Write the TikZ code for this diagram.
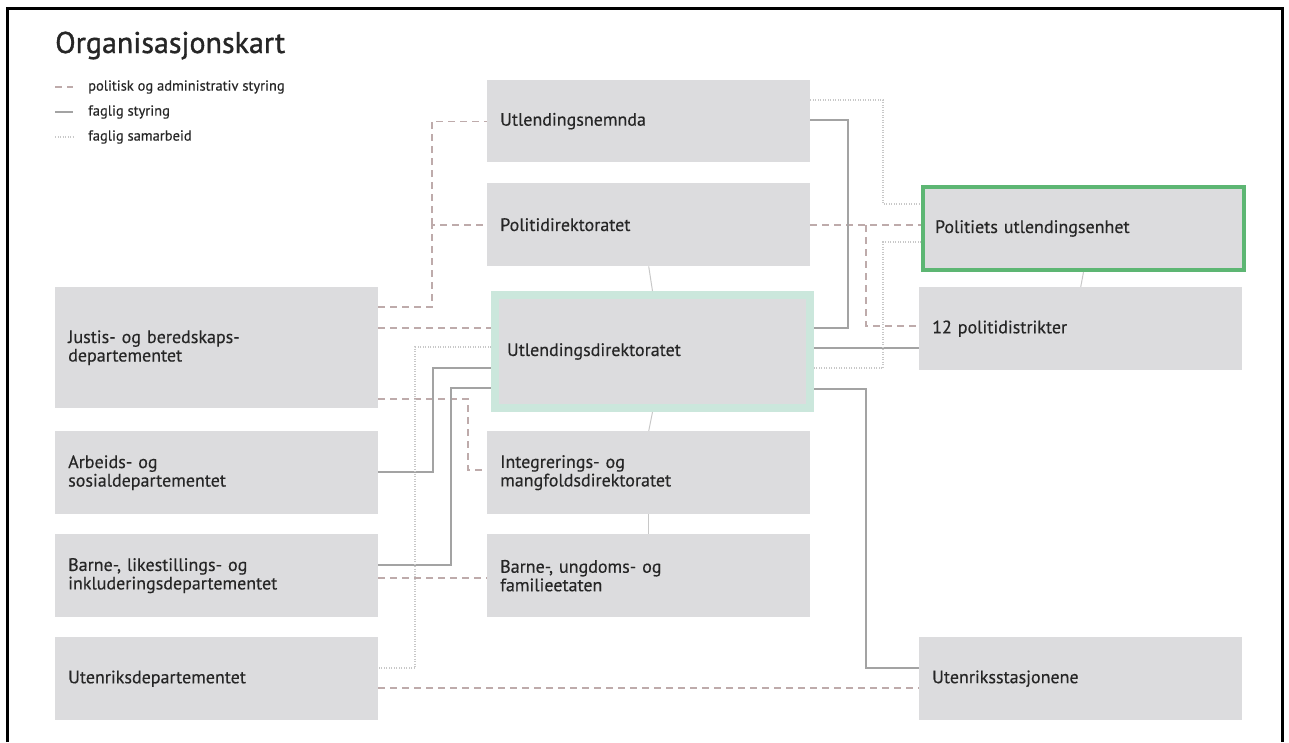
\documentclass[tikz,border=0pt]{standalone}
\usepackage{fontspec}
\setmainfont{PT Sans}
\newfontfamily\medfont{PT Sans}[FakeBold=0.35]
\newfontfamily\titlefont{PT Sans}[FakeBold=1.1]
\definecolor{boxgrey}{HTML}{DCDCDE}
\definecolor{txt}{HTML}{262626}
\definecolor{polcol}{HTML}{BEABAB}
\definecolor{fagcol}{HTML}{A3A3A3}
\definecolor{samcol}{HTML}{C8C8C8}
\definecolor{mint}{HTML}{CBE7DC}
\definecolor{pugreen}{HTML}{5DB673}

\begin{document}
\begin{tikzpicture}[x=1pt,y=-1pt,
  box/.style={anchor=north west,fill=boxgrey,text=txt,font=\medfont\fontsize{18}{18.5}\selectfont,align=left,
    text width=297pt,inner xsep=13pt,inner ysep=0pt,minimum width=323pt,minimum height=83pt},
  udibox/.style={draw=mint,line width=8pt,text width=291pt,inner xsep=12pt,minimum width=315pt,minimum height=113pt},
  pubox/.style={draw=pugreen,line width=4pt,text width=297pt,inner xsep=12pt,minimum width=321pt,minimum height=83pt},
  legend/.style={anchor=west,text=txt,font=\medfont\fontsize{14.5}{15}\selectfont,inner sep=0pt},
  pol/.style={draw=polcol,line width=1.4pt,dash pattern=on 7pt off 5pt},
  fag/.style={draw=fagcol,line width=1.4pt},
  sam/.style={draw=samcol,line width=1.2pt,dash pattern=on 1pt off 1.5pt},
  link/.style={draw=samcol,line width=1pt}]

  \useasboundingbox (0,0) rectangle (1289,742);
  \draw[line width=3pt] (7,742) -- (7,8) -- (1282,8) -- (1282,742);

  % title and legend
  \node[anchor=base west,inner sep=0pt,text=txt,font=\titlefont\fontsize{30}{31}\selectfont] (title) at (55,53) {Organisasjonskart};
  \draw[pol] (55,87) -- (73,87);
  \node[legend] (l1) at (88,87) {politisk og administrativ styring};
  \draw[fag] (55,112) -- (73,112);
  \node[legend] (l2) at (88,112) {faglig styring};
  \draw[sam] (55,137) -- (73,137);
  \node[legend] (l3) at (88,137) {faglig samarbeid};

  % departementene
  \node[box,minimum height=121pt] (jd) at (55,287) {Justis- og beredskaps-\\departementet};
  \node[box] (ad) at (55,431) {Arbeids- og\\sosialdepartementet};
  \node[box] (bld) at (55,534) {Barne-, likestillings- og\\inkluderingsdepartementet};
  \node[box] (ud) at (55,637) {Utenriksdepartementet};

  % etatene
  \node[box,minimum height=82pt] (une) at (487,80) {Utlendingsnemnda};
  \node[box] (pod) at (487,183) {Politidirektoratet};
  \node[box,udibox] (udi) at (491,291) {Utlendingsdirektoratet};
  \node[box] (imdi) at (487,431) {Integrerings- og\\mangfoldsdirektoratet};
  \node[box] (buf) at (487,534) {Barne-, ungdoms- og\\familieetaten};

  \node[box,pubox] (pu) at (921,185) {Politiets utlendingsenhet};
  \node[box] (pd) at (919,287) {12 politidistrikter};
  \node[box] (utst) at (919,637) {Utenriksstasjonene};

  % politisk og administrativ styring
  \coordinate (jpod) at (432,225);
  \draw[pol] (jd.east |- 0,307) -| (jpod) -- (pod.west |- jpod);
  \draw[pol] (jpod) |- (une.west);
  \draw[pol] (jd.east |- 0,328) -- (udi.west |- 0,328);
  \draw[pol] (jd.east |- 0,399) -| (468,470) -- (imdi.west |- 0,470);
  \draw[pol] (bld.east |- 0,578) -- (buf.west |- 0,578);
  \draw[pol] (ud.east |- 0,688) -- (utst.west |- 0,688);
  \coordinate (ppu) at (866,225);
  \draw[pol] (pod.east |- ppu) -- (pu.west |- ppu);
  \draw[pol] (ppu) |- (pd.west |- 0,326);

  % faglig styring
  \draw[fag] (ad.east |- 0,472) -| (433,368) -- (udi.west |- 0,368);
  \draw[fag] (bld.east |- 0,565) -| (451,388) -- (udi.west |- 0,388);
  \draw[fag] (une.east |- 0,120) -| (848,328) -- (udi.east |- 0,328);
  \draw[fag] (udi.east |- 0,348) -- (pd.west |- 0,348);
  \draw[fag] (udi.east |- 0,389) -| (866,668) -- (utst.west |- 0,668);

  % faglig samarbeid
  \draw[sam] (une.east |- 0,100) -| (883,204) -- (pu.west |- 0,204);
  \draw[sam] (pu.west |- 0,242) -| (883,368) -- (udi.east |- 0,368);
  \draw[sam] (udi.west |- 0,347) -| (415,668) -- (ud.east |- 0,668);

  \draw[link] (pod.south) -- (udi.north);
  \draw[link] (udi.south) -- (imdi.north);
  \draw[link] (imdi.south) -- (buf.north);
  \draw[link] (pu.south) -- (pd.north);
\end{tikzpicture}
\end{document}
